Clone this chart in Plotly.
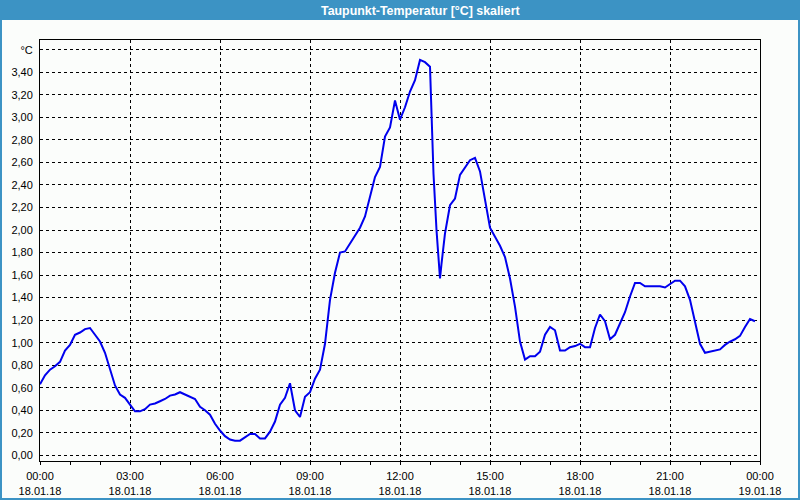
import plotly.graph_objects as go

# minutes after 18.01.18 00:00 and dew point values (°C)
minutes = [0, 10, 20, 30, 40, 50, 60, 70, 80, 90, 100, 110, 120, 130, 140, 150, 160, 170, 180, 190,
           200, 210, 220, 230, 240, 250, 260, 270, 280, 290, 300, 310, 320, 330, 340, 350, 360, 370, 380, 390,
           400, 410, 420, 430, 440, 450, 460, 470, 480, 490, 500, 510, 520, 530, 540, 550, 560, 570, 580, 590,
           600, 610, 620, 630, 640, 650, 660, 670, 680, 690, 700, 710, 720, 730, 740, 750, 760, 770, 780, 782,
           787, 793, 800, 803, 810, 820, 830, 840, 850, 860, 870, 880, 890, 900, 910, 920, 930, 940, 950, 960,
           970, 980, 990, 1000, 1010, 1020, 1030, 1040, 1050, 1060, 1070, 1080, 1090, 1100, 1110, 1120, 1130, 1140, 1150, 1160,
           1170, 1180, 1190, 1200, 1210, 1220, 1230, 1240, 1250, 1260, 1270, 1280, 1290, 1300, 1310, 1320, 1330, 1340, 1350, 1360,
           1370, 1380, 1390, 1400, 1410, 1420, 1430]
values = [0.63, 0.71, 0.76, 0.79, 0.83, 0.93, 0.98, 1.07, 1.09, 1.12, 1.13, 1.07, 1.01, 0.91, 0.76, 0.62, 0.54, 0.51, 0.45, 0.39,
          0.39, 0.41, 0.45, 0.46, 0.48, 0.50, 0.53, 0.54, 0.56, 0.54, 0.52, 0.50, 0.43, 0.40, 0.36, 0.28, 0.22, 0.17, 0.14, 0.13,
          0.13, 0.16, 0.19, 0.19, 0.15, 0.15, 0.21, 0.30, 0.45, 0.51, 0.64, 0.40, 0.34, 0.52, 0.56, 0.68, 0.76, 0.99, 1.38, 1.62,
          1.80, 1.81, 1.88, 1.96, 2.02, 2.12, 2.30, 2.47, 2.56, 2.83, 2.91, 3.15, 2.98, 3.09, 3.23, 3.33, 3.51, 3.49, 3.45, 3.21,
          2.50, 2.00, 1.57, 1.70, 1.97, 2.22, 2.28, 2.49, 2.55, 2.62, 2.64, 2.52, 2.27, 2.02, 1.94, 1.86, 1.76, 1.57, 1.32, 1.01,
          0.85, 0.88, 0.88, 0.92, 1.07, 1.14, 1.11, 0.93, 0.93, 0.96, 0.97, 0.99, 0.96, 0.96, 1.13, 1.25, 1.19, 1.03, 1.07, 1.17,
          1.27, 1.41, 1.53, 1.53, 1.50, 1.50, 1.50, 1.50, 1.49, 1.52, 1.55, 1.55, 1.50, 1.38, 1.17, 0.99, 0.91, 0.92, 0.93, 0.94,
          0.98, 1.01, 1.03, 1.06, 1.14, 1.21, 1.19]

tick_vals = ["2018-01-18 00:00", "2018-01-18 03:00", "2018-01-18 06:00", "2018-01-18 09:00", "2018-01-18 12:00",
             "2018-01-18 15:00", "2018-01-18 18:00", "2018-01-18 21:00", "2018-01-19 00:00"]
tick_text = ["00:00<br>18.01.18", "03:00<br>18.01.18", "06:00<br>18.01.18", "09:00<br>18.01.18", "12:00<br>18.01.18",
             "15:00<br>18.01.18", "18:00<br>18.01.18", "21:00<br>18.01.18", "00:00<br>19.01.18"]
y_tick_vals = [0.0, 0.2, 0.4, 0.6, 0.8, 1.0, 1.2, 1.4, 1.6, 1.8, 2.0, 2.2, 2.4, 2.6, 2.8, 3.0, 3.2, 3.4, 3.6]
y_tick_text = ["0,00", "0,20", "0,40", "0,60", "0,80", "1,00", "1,20", "1,40", "1,60", "1,80", "2,00", "2,20",
               "2,40", "2,60", "2,80", "3,00", "3,20", "3,40", "°C"]
title_text = "Taupunkt-Temperatur [°C] skaliert"

import datetime as dt
base = dt.datetime(2018, 1, 18)
times = [base + dt.timedelta(minutes=m) for m in minutes]

W, H = 800, 500
L, R, T, B = 40, 40, 40, 39
pw, ph = W - L - R, H - T - B
blue = "#3C93C4"
bg = "#FBFDFB"

def px_x(x):
    return (x - L) / pw

def px_y(y):
    return (H - B - y) / ph

fig = go.Figure()
fig.add_trace(go.Scatter(x=times, y=values, mode="lines",
                         line=dict(color="#0000EE", width=2), hoverinfo="skip"))

shapes = [
    dict(type="rect", xref="paper", yref="paper", x0=px_x(0), x1=px_x(W), y0=px_y(20), y1=px_y(0),
         fillcolor=blue, line=dict(width=0), layer="above"),
    dict(type="rect", xref="paper", yref="paper", x0=px_x(0), x1=px_x(2), y0=px_y(H), y1=px_y(20),
         fillcolor=blue, line=dict(width=0), layer="above"),
    dict(type="rect", xref="paper", yref="paper", x0=px_x(W - 2), x1=px_x(W), y0=px_y(H), y1=px_y(20),
         fillcolor=blue, line=dict(width=0), layer="above"),
    dict(type="rect", xref="paper", yref="paper", x0=px_x(0), x1=px_x(W), y0=px_y(H), y1=px_y(H - 2),
         fillcolor=blue, line=dict(width=0), layer="above"),
]

fig.update_layout(
    width=W, height=H,
    margin=dict(l=L, r=R, t=T, b=B, autoexpand=False),
    paper_bgcolor=bg, plot_bgcolor=bg,
    showlegend=False,
    font=dict(family="Liberation Sans", size=11, color="black"),
    shapes=shapes,
    annotations=[dict(text="<b>" + title_text + "</b>", xref="paper", yref="paper",
                      x=px_x(420), y=px_y(10.5), xanchor="center", yanchor="middle", showarrow=False,
                      font=dict(family="Liberation Sans", size=12.4, color="white"))],
)
fig.update_xaxes(
    type="date", automargin=False,
    range=["2018-01-18 00:00", "2018-01-19 00:00"],
    tickmode="array", tickvals=tick_vals, ticktext=tick_text,
    ticks="outside", ticklen=3, tickcolor="black", tickwidth=1,
    ticklabelstandoff=2,
    showline=True, linecolor="black", linewidth=1, mirror=True,
    showgrid=True, gridcolor="black", gridwidth=1, griddash="3px,3px",
    minor=dict(dtick=3600000, tick0="2018-01-18 00:00", ticks="outside", ticklen=3,
               tickcolor="black", showgrid=False),
    zeroline=False, fixedrange=True,
)
fig.update_yaxes(
    automargin=False,
    range=[-0.0506, 3.687],
    tickmode="array", tickvals=y_tick_vals, ticktext=y_tick_text,
    ticks="", ticklabelstandoff=4,
    showline=True, linecolor="black", linewidth=1, mirror=True,
    showgrid=True, gridcolor="black", gridwidth=1, griddash="3px,3px",
    zeroline=False, fixedrange=True,
)

fig.write_html("out.html", config=dict(displayModeBar=False))
